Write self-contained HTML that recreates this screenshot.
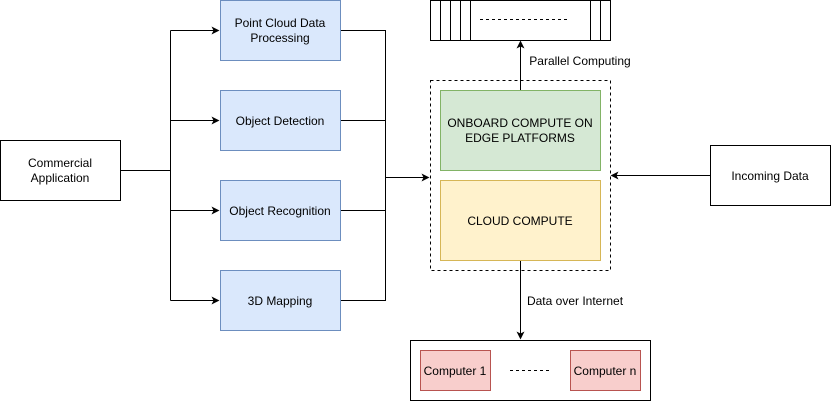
<!DOCTYPE html>
<html><head><meta charset="utf-8"><style>
body{margin:0;background:#fff}
svg{display:block;font-family:"Liberation Sans",sans-serif;font-size:12px}
</style></head><body>
<svg width="831" height="402" viewBox="0 0 831 402">
<defs><marker id="a" markerWidth="8" markerHeight="8" refX="7" refY="4" orient="auto" markerUnits="userSpaceOnUse"><path d="M0,0 L8,4 L0,8 L2,4 Z" fill="#000"/></marker></defs>
<g stroke="#000" fill="none" stroke-width="1">
<rect x="0.5" y="140.5" width="120" height="60" fill="#fff"/>
<rect x="710.5" y="145.5" width="120" height="60" fill="#fff"/>
<path d="M120.5 170.5H170.5M170.5 30.5V300.5"/>
<path d="M170.5 30.5H218.5" marker-end="url(#a)"/>
<path d="M170.5 120.5H218.5" marker-end="url(#a)"/>
<path d="M170.5 210.5H218.5" marker-end="url(#a)"/>
<path d="M170.5 300.5H218.5" marker-end="url(#a)"/>
<path d="M340.5 30.5H385.5V300.5H340.5M340.5 120.5H385.5M340.5 210.5H385.5"/>
<path d="M385.5 177.5H428.5" marker-end="url(#a)"/>
<path d="M710.5 175.5H611.5" marker-end="url(#a)"/>
<path d="M520.5 90.5V41.5" marker-end="url(#a)"/>
<path d="M520.5 260.5V338.5" marker-end="url(#a)"/>
<rect x="430.5" y="80.5" width="180" height="190" stroke-dasharray="3,3"/>
<rect x="430.5" y="0.5" width="180" height="40" fill="#fff"/>
<path d="M440.5 0.5V40.5M450.5 0.5V40.5M460.5 0.5V40.5M470.5 0.5V40.5M590.5 0.5V40.5M600.5 0.5V40.5"/>
<path d="M480 19.5H568" stroke-dasharray="3,3"/>
<rect x="410.5" y="340.5" width="240" height="60"/>
<path d="M510 370.5H550" stroke-dasharray="3,3"/>
</g>
<g stroke="#6c8ebf" fill="#dae8fc">
<rect x="220.5" y="0.5" width="120" height="60"/>
<rect x="220.5" y="90.5" width="120" height="60"/>
<rect x="220.5" y="180.5" width="120" height="60"/>
<rect x="220.5" y="270.5" width="120" height="60"/>
</g>
<rect x="440.5" y="90.5" width="160" height="80" fill="#d5e8d4" stroke="#82b366"/>
<rect x="440.5" y="180.5" width="160" height="80" fill="#fff2cc" stroke="#d6b656"/>
<rect x="420.5" y="350.5" width="70" height="40" fill="#f8cecc" stroke="#b85450"/>
<rect x="570.5" y="350.5" width="70" height="40" fill="#f8cecc" stroke="#b85450"/>
<g fill="#000" text-anchor="middle">
<text x="60" y="167">Commercial</text><text x="60" y="182">Application</text>
<text x="770" y="180">Incoming Data</text>
<text x="280" y="27">Point Cloud Data</text><text x="280" y="42">Processing</text>
<text x="280" y="125">Object Detection</text>
<text x="280" y="215">Object Recognition</text>
<text x="280" y="305">3D Mapping</text>
<text x="520" y="127">ONBOARD COMPUTE ON</text><text x="520" y="142">EDGE PLATFORMS</text>
<text x="520" y="225">CLOUD COMPUTE</text>
<text x="455" y="375">Computer 1</text>
<text x="605" y="375">Computer n</text>
<text x="580" y="65">Parallel Computing</text>
<text x="575" y="305">Data over Internet</text>
</g>
</svg>
</body></html>
